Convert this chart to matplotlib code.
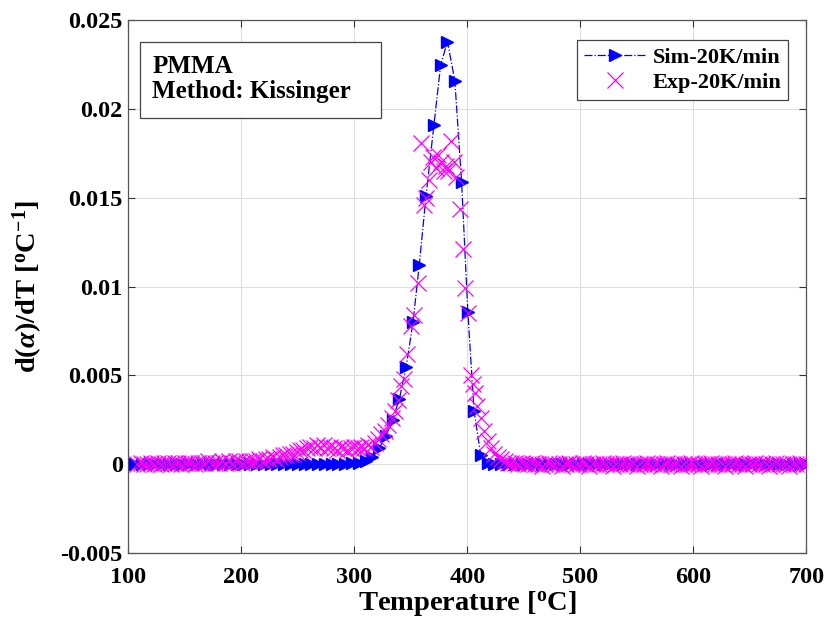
import matplotlib
matplotlib.use("Agg")
import matplotlib.pyplot as plt
from matplotlib.patches import Rectangle

# simulated curve, 20 K/min
sim_T = [106, 112, 118, 124, 130, 136, 142, 148, 154, 160,
         166, 172, 178, 184, 190, 196, 202, 208, 214, 220,
         226, 232, 238, 244, 250, 256, 262, 268, 274, 280,
         286, 292, 298, 304, 310, 316, 322,
         328, 334, 340, 346, 352, 357.5, 363.5, 370.5, 376.5, 382.5,
         389, 395, 400.5, 406, 412,
         418, 424, 430, 436, 442, 448, 454, 460, 466, 472,
         478, 484, 490, 496, 502, 508, 514, 520, 526, 532,
         538, 544, 550, 556, 562, 568, 574, 580, 586, 592,
         598, 604, 610, 616, 622, 628, 634, 640, 646, 652,
         658, 664, 670, 676, 682, 688, 694, 700]
sim_y = [0.0, 0.0, 0.0, 0.0, 0.0, 0.0, 0.0, 0.0, 0.0, 0.0,
         0.0, 0.0, 0.0, 0.0, 0.0, 0.0, 0.0, 0.0, 0.0, 0.0,
         0.0, 0.0, 0.0, 0.0, 0.0, 0.0, 0.0, 0.0, 0.0, 0.0,
         0.0, 0.0, 0.00005, 0.0001, 0.0002, 0.0004, 0.0009,
         0.0016, 0.0025, 0.0037, 0.0055, 0.0080, 0.0112, 0.0151, 0.0191, 0.0225, 0.0238,
         0.0216, 0.0159, 0.0086, 0.0030, 0.0005,
         0.0001, 0.00003, 0.0, 0.0, 0.0, 0.0, 0.0, 0.0, 0.0, 0.0,
         0.0, 0.0, 0.0, 0.0, 0.0, 0.0, 0.0, 0.0, 0.0, 0.0,
         0.0, 0.0, 0.0, 0.0, 0.0, 0.0, 0.0, 0.0, 0.0, 0.0,
         0.0, 0.0, 0.0, 0.0, 0.0, 0.0, 0.0, 0.0, 0.0, 0.0,
         0.0, 0.0, 0.0, 0.0, 0.0, 0.0, 0.0, 0.0]

# experimental curve, 20 K/min
exp_T = [108, 111, 114, 117, 120, 123, 126, 129, 132, 135,
         138, 141, 144, 147, 150, 153, 156, 159, 162, 165,
         168, 171, 174, 177, 180, 183, 186, 189, 192, 195,
         198, 201, 204, 207, 210, 213, 216, 219, 222, 225,
         228, 231, 234, 237, 240, 243, 246, 249, 252, 255,
         258, 261, 264, 267, 270, 273, 276, 279, 282, 285,
         288, 291, 294, 297, 300, 303, 306, 309, 312, 315,
         318, 321, 324, 327, 330, 333, 336, 339,
         341, 344, 347, 350, 353, 356, 359, 361.5, 363.5, 366,
         368, 370, 372.5, 374.5, 377, 379, 381, 383, 385.5, 388,
         390, 393.5, 396, 398, 400.5, 403, 405, 407, 409, 412,
         415, 418, 421, 424,
         427, 430, 433, 436, 439, 442, 445, 448, 451, 454,
         457, 460, 463, 466, 469, 472, 475, 478, 481, 484,
         487, 490, 493, 496, 499, 502, 505, 508, 511, 514,
         517, 520, 523, 526, 529, 532, 535, 538, 541, 544,
         547, 550, 553, 556, 559, 562, 565, 568, 571, 574,
         577, 580, 583, 586, 589, 592, 595, 598, 601, 604,
         607, 610, 613, 616, 619, 622, 625, 628, 631, 634,
         637, 640, 643, 646, 649, 652, 655, 658, 661, 664,
         667, 670, 673, 676, 679, 682, 685, 688, 691, 694,
         697, 700]
exp_y = [0.0000, 0.0001, 0.0000, 0.0000, 0.0001, 0.0000, 0.0001, 0.0000, 0.0001, 0.0001,
         0.0000, 0.0001, 0.0001, 0.0000, 0.0001, 0.0001, 0.0001, 0.0000, 0.0001, 0.0001,
         0.0001, 0.0002, 0.0001, 0.0001, 0.0001, 0.0002, 0.0001, 0.0002, 0.0001, 0.0002,
         0.0002, 0.0001, 0.0002, 0.0002, 0.0002, 0.0002, 0.0003, 0.0002, 0.0003, 0.0003,
         0.0004, 0.0003, 0.0004, 0.0005, 0.0005, 0.0006, 0.0006, 0.0007, 0.0008, 0.0008,
         0.0009, 0.0010, 0.0009, 0.0011, 0.0010, 0.0011, 0.0009, 0.0010, 0.0009, 0.0008,
         0.0010, 0.0009, 0.0008, 0.0009, 0.0010, 0.0009, 0.0010, 0.0009, 0.0011, 0.0010,
         0.0012, 0.0014, 0.0017, 0.0019, 0.0022, 0.0026, 0.0030, 0.0036,
         0.0044, 0.0048, 0.0062, 0.0078, 0.0084, 0.0102, 0.0181, 0.0146, 0.0150, 0.0160,
         0.0170, 0.0173, 0.0167, 0.0174, 0.0170, 0.0165, 0.0168, 0.0165, 0.0182, 0.0170,
         0.0162, 0.0144, 0.0121, 0.0099, 0.0085, 0.0050, 0.0045, 0.0040, 0.0033, 0.0026,
         0.0019, 0.0013, 0.0009, 0.0006,
         0.0004, 0.0003, 0.0002, 0.0001, 0.0001, 0.0001, 0.0000, 0.0001, 0.0000, 0.0000,
         0.0001, 0.0000, 0.0000, -0.0001, 0.0000, 0.0001, 0.0000, 0.0000, 0.0000, -0.0001,
         0.0000, 0.0001, 0.0000, 0.0000, 0.0000, 0.0001, 0.0000, -0.0001, 0.0000, 0.0000,
         0.0000, 0.0001, 0.0000, 0.0000, -0.0001, 0.0000, 0.0000, 0.0001, 0.0000, 0.0000,
         0.0000, -0.0001, 0.0000, 0.0000, 0.0001, 0.0000, 0.0000, 0.0000, -0.0001, 0.0000,
         0.0001, 0.0000, 0.0000, 0.0000, -0.0001, 0.0000, 0.0000, 0.0001, 0.0000, 0.0000,
         -0.0001, 0.0000, 0.0000, 0.0001, 0.0000, 0.0000, 0.0000, -0.0001, 0.0000, 0.0000,
         0.0001, 0.0000, 0.0000, -0.0001, 0.0000, 0.0000, 0.0001, 0.0000, 0.0000, 0.0000,
         -0.0001, 0.0000, 0.0001, 0.0000, 0.0000, 0.0000, -0.0001, 0.0000, 0.0000, 0.0001,
         0.0000, 0.0000]

x_ticks = [100, 200, 300, 400, 500, 600, 700]
y_ticks = [-0.005, 0, 0.005, 0.01, 0.015, 0.02, 0.025]
y_tick_labels = ["-0.005", "0", "0.005", "0.01", "0.015", "0.02", "0.025"]

plt.rcParams["font.family"] = ["Liberation Serif", "DejaVu Serif"]
plt.rcParams["font.weight"] = "bold"
plt.rcParams["mathtext.fontset"] = "custom"
plt.rcParams["mathtext.rm"] = "Liberation Serif:bold"
plt.rcParams["mathtext.bf"] = "Liberation Serif:bold"
plt.rcParams["mathtext.it"] = "Liberation Serif:bold:italic"

fig = plt.figure(figsize=(8.27, 6.35), dpi=100)
ax = fig.add_axes([0.155, 0.129, 0.820, 0.839])

ax.plot(sim_T, sim_y, color="blue", linestyle="-.", linewidth=0.9,
        marker=">", markersize=8, markerfacecolor="blue", markeredgecolor="blue",
        label="Sim-20K/min", zorder=3)
ax.plot(exp_T, exp_y, color="magenta", linestyle="none", marker="x",
        markersize=11, markeredgewidth=0.9, label="Exp-20K/min", zorder=4)

ax.set_xlim(100, 700)
ax.set_ylim(-0.005, 0.025)
ax.set_xticks(x_ticks)
ax.set_yticks(y_ticks)
ax.set_yticklabels(y_tick_labels)
ax.tick_params(axis="both", direction="in", top=True, right=True, labelsize=17.5,
               length=5, width=0.8, color="#333333")
ax.tick_params(axis="x", pad=10)
ax.tick_params(axis="y", pad=4)
for lab in ax.get_xticklabels() + ax.get_yticklabels():
    lab.set_fontweight("bold")
ax.grid(True, color="#dddddd", linewidth=0.8)
ax.set_axisbelow(True)
for sp in ax.spines.values():
    sp.set_color("#555555")
    sp.set_linewidth(0.9)

ax.set_xlabel(r"Temperature [$^{\mathrm{o}}$C]", fontsize=20.5, fontweight="bold", labelpad=1)
ax.set_ylabel(r"d($\alpha$)/dT [$^{\mathrm{o}}$C$^{\mathrm{-1}}$]", fontsize=20.5,
              fontweight="bold", labelpad=11)

leg = ax.legend(loc="upper right", fontsize=16, frameon=True, fancybox=False,
                edgecolor="#444444", framealpha=1, borderpad=0.3, borderaxespad=0,
                handlelength=2.8, handletextpad=0.3, labelspacing=0.22,
                bbox_to_anchor=(0.9735, 0.9625))
leg.get_frame().set_linewidth(0.9)
for t in leg.get_texts():
    t.set_fontweight("bold")

# annotation box drawn at a fixed size, like the original
ax.add_patch(Rectangle((0.0177, 0.816), 0.355, 0.1427, transform=ax.transAxes,
                       facecolor="white", edgecolor="#444444", linewidth=0.9, zorder=5))
ax.text(0.0354, 0.935, "PMMA\nMethod: Kissinger", transform=ax.transAxes,
        fontsize=18, fontweight="bold", va="top", ha="left", linespacing=1.1, zorder=6)

fig.savefig("out.png", dpi=100)
